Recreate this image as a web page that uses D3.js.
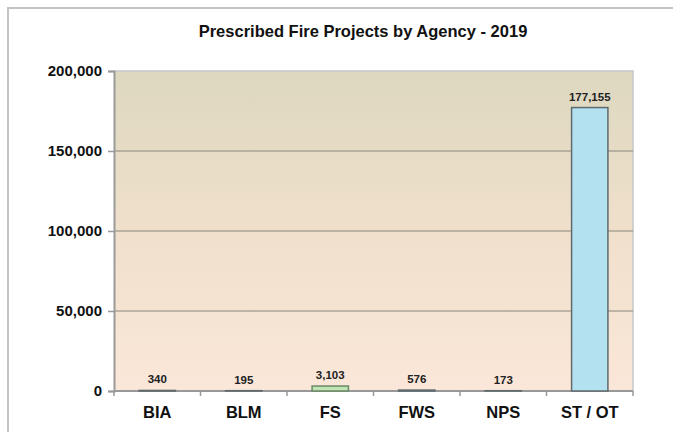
<!DOCTYPE html>
<html>
<head>
<meta charset="utf-8">
<script src="https://cdn.jsdelivr.net/npm/d3@7"></script>
<style>
  body { margin: 0; background: #fff; }
  svg { display: block; font-family: "Liberation Sans", Arial, sans-serif; }
</style>
</head>
<body>
<div id="chart"></div>
<script>
// agencies and prescribed fire counts, 2019
const agencies = ['BIA', 'BLM', 'FS', 'FWS', 'NPS', 'ST / OT'];
const projects = [340, 195, 3103, 576, 173, 177155];
const barFills = ['#6b6b6b', '#6b6b6b', '#bfe6b4', '#6b6b6b', '#6b6b6b', '#b3e1ef'];
const yTicks = [0, 50000, 100000, 150000, 200000];

const W = 673, H = 432;
const margin = { left: 114, top: 71, right: 40, bottom: 42 };
const width = 633 - margin.left;
const height = 391 - margin.top;

const svg = d3.select('#chart').append('svg')
  .attr('width', W)
  .attr('height', H);

// outer frame of the chart
svg.append('path')
  .attr('d', `M${W + 5},8 H8 V${H + 5}`)
  .attr('fill', 'none')
  .attr('stroke', '#c4c4c4')
  .attr('stroke-width', 2);

const grad = svg.append('defs').append('linearGradient')
  .attr('id', 'bg')
  .attr('x1', 0).attr('y1', 0).attr('x2', 0).attr('y2', 1);
grad.append('stop').attr('offset', '0%').attr('stop-color', '#ddd8c0');
grad.append('stop').attr('offset', '45%').attr('stop-color', '#eedfca');
grad.append('stop').attr('offset', '100%').attr('stop-color', '#fbe7d9');

svg.append('text')
  .attr('x', 363)
  .attr('y', 37)
  .attr('text-anchor', 'middle')
  .attr('font-size', 16.5)
  .attr('font-weight', 'bold')
  .attr('fill', '#111')
  .text('Prescribed Fire Projects by Agency - 2019');

const g = svg.append('g')
  .attr('transform', `translate(${margin.left}, ${margin.top})`);

const x = d3.scaleBand()
  .domain(agencies)
  .range([0, width])
  .paddingInner(0.58)
  .paddingOuter(0.29);

const y = d3.scaleLinear()
  .domain([0, 200000])
  .range([height, 0]);

g.append('rect')
  .attr('width', width)
  .attr('height', height)
  .attr('fill', 'url(#bg)');

// top / right border of the plot area
g.append('path')
  .attr('d', `M0,0 H${width} V${height}`)
  .attr('fill', 'none')
  .attr('stroke', '#c8c8c8')
  .attr('stroke-width', 1.5);

// gridlines
g.selectAll('.grid')
  .data(yTicks.filter(d => d > 0 && d < 200000))
  .enter()
  .append('line')
  .attr('x1', 0)
  .attr('x2', width)
  .attr('y1', d => y(d))
  .attr('y2', d => y(d))
  .attr('stroke', '#8a857c')
  .attr('stroke-width', 1.2);

const yAxis = g.append('g')
  .call(d3.axisLeft(y).tickValues(yTicks).tickSize(6).tickPadding(6).tickFormat(d3.format(',')));
yAxis.select('.domain').attr('stroke', '#999').attr('stroke-width', 2);
yAxis.selectAll('.tick line').attr('stroke', '#999').attr('stroke-width', 1.5);
yAxis.selectAll('text')
  .attr('font-size', 15)
  .attr('font-weight', 'bold')
  .attr('fill', '#111')
  .attr('font-family', '"Liberation Sans", Arial, sans-serif');

// x axis: baseline and boundary ticks
g.append('line')
  .attr('x1', 0).attr('x2', width)
  .attr('y1', height).attr('y2', height)
  .attr('stroke', '#999')
  .attr('stroke-width', 2);

const step = x.step();
g.selectAll('.xtick')
  .data(d3.range(agencies.length + 1))
  .enter()
  .append('line')
  .attr('x1', i => i * step)
  .attr('x2', i => i * step)
  .attr('y1', height)
  .attr('y2', height + 5)
  .attr('stroke', '#999')
  .attr('stroke-width', 1.5);

g.selectAll('.xlabel')
  .data(agencies)
  .enter()
  .append('text')
  .attr('x', d => x(d) + x.bandwidth() / 2)
  .attr('y', height + 27)
  .attr('text-anchor', 'middle')
  .attr('font-size', 16.5)
  .attr('font-weight', 'bold')
  .attr('fill', '#111')
  .text(d => d);

g.selectAll('.bar')
  .data(projects)
  .enter()
  .append('rect')
  .attr('x', (d, i) => x(agencies[i]))
  .attr('width', x.bandwidth())
  .attr('y', d => y(d))
  .attr('height', d => height - y(d))
  .attr('fill', (d, i) => barFills[i])
  .attr('stroke', (d, i) => i === 2 ? '#6b8a66' : '#5f6a6e')
  .attr('stroke-width', 1.5);

g.selectAll('.val')
  .data(projects)
  .enter()
  .append('text')
  .attr('x', (d, i) => x(agencies[i]) + x.bandwidth() / 2)
  .attr('y', d => y(d) - 7)
  .attr('text-anchor', 'middle')
  .attr('font-size', 11.5)
  .attr('font-weight', 'bold')
  .attr('fill', '#222')
  .text(d => d3.format(',')(d));
</script>
</body>
</html>
